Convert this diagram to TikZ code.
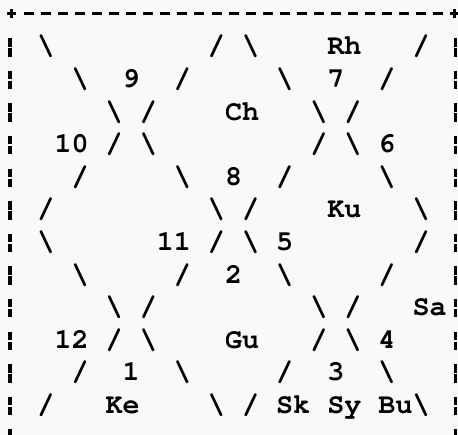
\documentclass[tikz,border=0pt]{standalone}
\usepackage{fontspec}
\newfontfamily\asciifont{TeX Gyre Cursor}
\definecolor{bgcol}{HTML}{F9F9F9}
\newcommand\asciibs{\textbackslash}
\newcommand\asciitok[4]{\node[tok] (#1) at ({3.375+17.05*#2},{-55-32.6*(#3-1)}) {#4};}
\begin{document}
\begin{tikzpicture}[x=1pt,y=1pt,
  tok/.style={inner sep=0pt, outer sep=0pt, anchor=base west,
    font=\asciifont\bfseries\fontsize{28.4}{30}\selectfont, text=black},
  bar/.style={line width=3.3pt, draw=black}]
\useasboundingbox (0,0) rectangle (458,-435);
\fill[bgcol] (0,0) rectangle (458,-435);
\clip (0,0) rectangle (458,-435);
% top border: + - - - ... - +
\draw[bar, line width=3.4pt, dash pattern=on 10pt off 7.05pt] (23.95,-13.5) -- (443.15,-13.5);
\draw[bar, line width=3.4pt] (6.5,-13.5) -- (15.5,-13.5);
\draw[bar, line width=3pt] (11,-9.3) -- (11,-18.3);
\draw[bar, line width=3.4pt] (450,-13.5) -- (459,-13.5);
\draw[bar, line width=3pt] (454.4,-9.3) -- (454.4,-18.3);
% side borders (broken bars, one per text line)
\foreach \r in {1,...,13}{
  \pgfmathsetmacro\bl{55+32.6*(\r-1)}
  \draw[bar] (10,{-\bl+16.7}) -- (10,{-\bl+8.3});
  \draw[bar] (10,{-\bl+6.7}) -- (10,{-\bl-1.7});
  \draw[bar] (455.3,{-\bl+16.7}) -- (455.3,{-\bl+8.3});
  \draw[bar] (455.3,{-\bl+6.7}) -- (455.3,{-\bl-1.7});
}
% row 1
\asciitok{r1c2}{2}{1}{\asciibs}
\asciitok{r1c12}{12}{1}{/}
\asciitok{r1c14}{14}{1}{\asciibs}
\asciitok{r1c19}{19}{1}{Rh}
\asciitok{r1c24}{24}{1}{/}
% row 2
\asciitok{r2c4}{4}{2}{\asciibs}
\asciitok{r2c7}{7}{2}{9}
\asciitok{r2c10}{10}{2}{/}
\asciitok{r2c16}{16}{2}{\asciibs}
\asciitok{r2c19}{19}{2}{7}
\asciitok{r2c22}{22}{2}{/}
% row 3
\asciitok{r3c6}{6}{3}{\asciibs}
\asciitok{r3c8}{8}{3}{/}
\asciitok{r3c13}{13}{3}{Ch}
\asciitok{r3c18}{18}{3}{\asciibs}
\asciitok{r3c20}{20}{3}{/}
% row 4
\asciitok{r4c3}{3}{4}{10}
\asciitok{r4c6}{6}{4}{/}
\asciitok{r4c8}{8}{4}{\asciibs}
\asciitok{r4c18}{18}{4}{/}
\asciitok{r4c20}{20}{4}{\asciibs}
\asciitok{r4c22}{22}{4}{6}
% row 5
\asciitok{r5c4}{4}{5}{/}
\asciitok{r5c10}{10}{5}{\asciibs}
\asciitok{r5c13}{13}{5}{8}
\asciitok{r5c16}{16}{5}{/}
\asciitok{r5c22}{22}{5}{\asciibs}
% row 6
\asciitok{r6c2}{2}{6}{/}
\asciitok{r6c12}{12}{6}{\asciibs}
\asciitok{r6c14}{14}{6}{/}
\asciitok{r6c19}{19}{6}{Ku}
\asciitok{r6c24}{24}{6}{\asciibs}
% row 7
\asciitok{r7c2}{2}{7}{\asciibs}
\asciitok{r7c9}{9}{7}{11}
\asciitok{r7c12}{12}{7}{/}
\asciitok{r7c14}{14}{7}{\asciibs}
\asciitok{r7c16}{16}{7}{5}
\asciitok{r7c24}{24}{7}{/}
% row 8
\asciitok{r8c4}{4}{8}{\asciibs}
\asciitok{r8c10}{10}{8}{/}
\asciitok{r8c13}{13}{8}{2}
\asciitok{r8c16}{16}{8}{\asciibs}
\asciitok{r8c22}{22}{8}{/}
% row 9
\asciitok{r9c6}{6}{9}{\asciibs}
\asciitok{r9c8}{8}{9}{/}
\asciitok{r9c18}{18}{9}{\asciibs}
\asciitok{r9c20}{20}{9}{/}
\asciitok{r9c24}{24}{9}{Sa}
% row 10
\asciitok{r10c3}{3}{10}{12}
\asciitok{r10c6}{6}{10}{/}
\asciitok{r10c8}{8}{10}{\asciibs}
\asciitok{r10c13}{13}{10}{Gu}
\asciitok{r10c18}{18}{10}{/}
\asciitok{r10c20}{20}{10}{\asciibs}
\asciitok{r10c22}{22}{10}{4}
% row 11
\asciitok{r11c4}{4}{11}{/}
\asciitok{r11c7}{7}{11}{1}
\asciitok{r11c10}{10}{11}{\asciibs}
\asciitok{r11c16}{16}{11}{/}
\asciitok{r11c19}{19}{11}{3}
\asciitok{r11c22}{22}{11}{\asciibs}
% row 12
\asciitok{r12c2}{2}{12}{/}
\asciitok{r12c6}{6}{12}{Ke}
\asciitok{r12c12}{12}{12}{\asciibs}
\asciitok{r12c14}{14}{12}{/}
\asciitok{r12c16}{16}{12}{Sk}
\asciitok{r12c19}{19}{12}{Sy}
\asciitok{r12c22}{22}{12}{Bu\asciibs}
\end{tikzpicture}
\end{document}
